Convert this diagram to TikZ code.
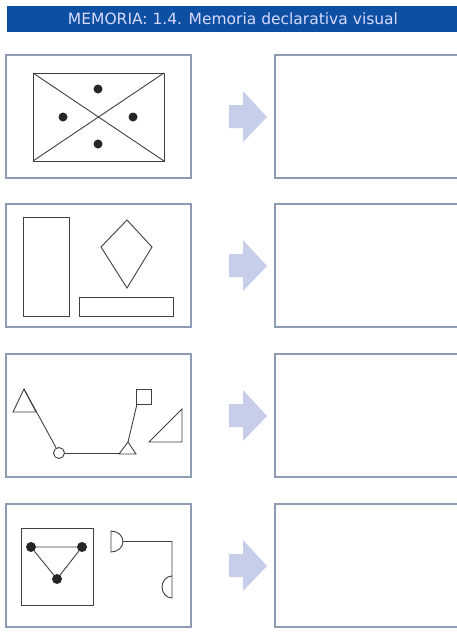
\documentclass[tikz,border=0pt]{standalone}
\usepackage{fontspec}
\setmainfont{DejaVu Sans}
\begin{document}
\begin{tikzpicture}[x=1pt,y=-1pt,
  frame/.style={draw=boxgray,line width=1.3pt,fill=white},
  fig/.style={draw=black!75,line width=0.9pt},
  dotn/.style={circle,fill=black!85,inner sep=0pt,minimum size=9pt},
  arrowfill/.style={fill=arrowblue,draw=none}]
\definecolor{boxgray}{HTML}{8D9BB3}
\definecolor{arrowblue}{HTML}{C6CEEA}
\definecolor{headblue}{HTML}{0C4FA3}
\useasboundingbox (0,0) rectangle (457,634);
\clip (0,0) rectangle (457,634);
% header
\fill[headblue] (7,6) rectangle (460,32);
\node[text=white!85!blue,font=\fontsize{15.5}{17}\selectfont] (title) at (233,19) {MEMORIA: 1.4. Memoria declarativa visual};
% rows: tops 55,204,354,504 ; height 123
\foreach \t/\n in {55/a,204/b,354/c,504/d}{
  \draw[frame] (6,\t) rectangle (191,\t+123);
  \draw[frame] (275,\t) rectangle (470,\t+123);
  \fill[arrowblue] (229,\t+50) -- (243,\t+50) -- (243,\t+36) -- (267,\t+62) -- (243,\t+87) -- (243,\t+73) -- (229,\t+73) -- cycle;
}
% figure 1
\draw[fig] (33,73) rectangle (164,161);
\draw[fig] (33,73) -- (164,161);
\draw[fig] (33,161) -- (164,73);
\node[dotn] (d1) at (98,89) {};
\node[dotn] (d2) at (63,117) {};
\node[dotn] (d3) at (133,117) {};
\node[dotn] (d4) at (98,144) {};
% figure 2
\draw[fig] (23,217) rectangle (69,316);
\draw[fig] (127,220) -- (152,247) -- (127,288) -- (101,247) -- cycle;
\draw[fig] (79,297) rectangle (173,316);
% figure 3
\draw[fig] (24,389) -- (13,412) -- (36,412) -- cycle;
\node[circle,draw=black!75,line width=0.9pt,inner sep=0pt,minimum size=11pt] (c3) at (59,453) {};
\draw[fig] (24,389) -- (c3);
\draw[fig] (119,454) -- (128,442) -- (136,454) -- cycle;
\draw[fig] (c3) -- (119,453);
\draw[fig] (136,389) rectangle (151,404);
\draw[fig] (128,442) -- (137,404);
\draw[fig] (149,442) -- (182,442) -- (182,409) -- cycle;
% figure 4
\draw[fig] (21,528) rectangle (93,605);
\node[dotn,minimum size=10pt] (e1) at (31,547) {};
\node[dotn,minimum size=10pt] (e2) at (82,547) {};
\node[dotn,minimum size=10pt] (e3) at (57,579) {};
\draw[fig] (e1) -- (e2) -- (e3) -- (e1);
\draw[fig] (111,531) -- (111,552) arc[start angle=90,end angle=-90,x radius=12,y radius=10.5] -- cycle;
\draw[fig] (123,541.5) -- (172,541.5) -- (172,598) arc[start angle=90,end angle=270,x radius=10,y radius=11] -- (172,576);
\end{tikzpicture}
\end{document}
